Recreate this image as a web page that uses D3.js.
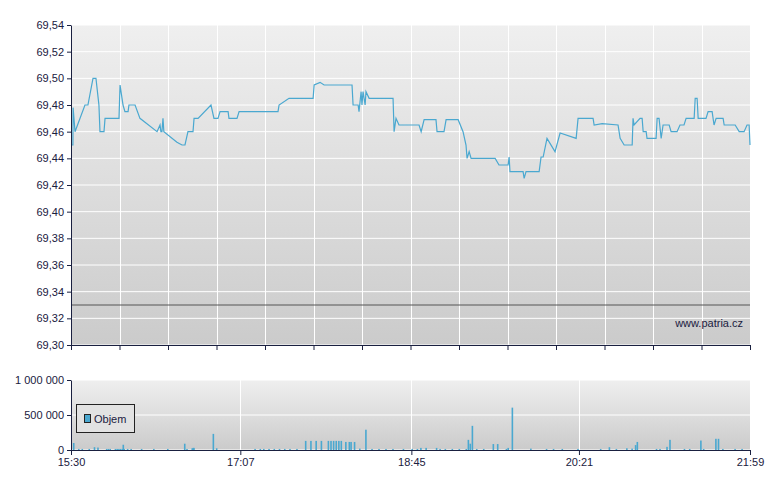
<!DOCTYPE html>
<html><head><meta charset="utf-8">
<script src="https://cdn.jsdelivr.net/npm/d3@7"></script>
<style>body{margin:0;background:#fff}text{font-family:"Liberation Sans",Arial,sans-serif;font-size:11px;fill:#1a2040}</style>
</head><body>
<svg id="chart" width="780" height="490"></svg>
<script>
// price: minutes after 15:30, value
var priceMin = [0,1.1,1.2,2.3,8.0,9.7,12.6,14.3,16.0,16.6,18.9,19.5,27.5,28.1,29.8,30.9,32.7,33.2,36.7,39.5,49.3,51.0,51.5,52.1,52.7,53.2,60.7,63.6,65.3,67.0,69.9,70.5,72.8,80.2,81.9,84.2,85.4,90.0,90.5,95.1,96.3,118.6,119.2,124.9,138.7,139.3,142.7,145.0,161.0,161.6,164.5,165.0,166.2,166.7,167.3,168.5,169.0,170.8,172.5,184.5,185.1,186.2,187.9,199.4,200.6,202.3,209.1,209.7,213.7,214.9,221.8,224.6,226.3,226.9,228.1,229.2,243.0,245.2,250.4,251.0,251.5,259.0,259.6,260.7,268.2,269.3,270.5,272.7,277.3,280.2,289.4,290.5,299.1,299.7,304.3,313.4,314.6,316.9,321.5,322.0,322.6,326.0,327.2,327.8,329.5,330.0,335.2,335.8,336.9,338.1,339.2,342.7,343.8,347.2,348.9,351.2,352.4,357.0,357.6,358.7,359.3,363.8,365.0,367.3,368.4,369.6,373.6,374.2,380.5,382.8,385.6,387.3,388.5,389];
var priceVal = [69.45,69.45,69.478,69.46,69.48,69.48,69.50,69.50,69.48,69.46,69.46,69.47,69.47,69.495,69.48,69.475,69.475,69.48,69.48,69.47,69.46,69.465,69.46,69.46,69.47,69.46,69.452,69.45,69.45,69.46,69.46,69.47,69.47,69.48,69.47,69.47,69.475,69.475,69.47,69.47,69.475,69.475,69.48,69.485,69.485,69.495,69.497,69.495,69.495,69.48,69.48,69.475,69.49,69.48,69.49,69.48,69.49,69.485,69.485,69.485,69.46,69.47,69.465,69.465,69.46,69.469,69.469,69.46,69.46,69.469,69.469,69.46,69.45,69.44,69.445,69.44,69.44,69.435,69.435,69.441,69.43,69.43,69.425,69.43,69.43,69.441,69.441,69.455,69.445,69.459,69.455,69.47,69.47,69.465,69.466,69.465,69.455,69.45,69.45,69.47,69.465,69.47,69.47,69.46,69.46,69.455,69.455,69.47,69.47,69.455,69.465,69.465,69.46,69.46,69.465,69.465,69.47,69.47,69.485,69.485,69.47,69.47,69.475,69.475,69.465,69.47,69.47,69.465,69.465,69.46,69.46,69.465,69.465,69.45];
// volume: minutes after 15:30, shares
var volMin = [1.1,4,6,10,13,15,20,21,22,25,26,27,28,29,29.5,30,32,34,40,47,55,64.7,66,69,69.6,70,81.1,83,105,108,110,113,116,119,122,125,129,134,137,140,143,147,148.5,150,151.5,153,154.4,157,159,160,162,165,168.5,172,176,180,184,190,195,198,200,203,209,211,214,218,222,226,227.2,228.3,229.5,232,236,241.5,244,249,250,252.4,263,272,276,281,290,303,308,312,318,321,323,324,335,337,341,342.7,351,354,360.4,362,369,370.5,373,380,384];
var volVal = [100000,15000,15000,15000,40000,35000,15000,15000,15000,15000,15000,15000,15000,15000,75000,15000,15000,15000,15000,15000,15000,90000,15000,25000,30000,30000,230000,25000,15000,15000,15000,15000,15000,15000,15000,15000,15000,130000,130000,130000,130000,130000,130000,130000,130000,130000,130000,115000,115000,115000,115000,20000,290000,15000,15000,15000,15000,15000,15000,15000,30000,30000,30000,15000,15000,15000,15000,15000,145000,90000,345000,15000,15000,85000,85000,15000,30000,605000,20000,15000,15000,15000,15000,15000,40000,15000,25000,20000,70000,115000,15000,15000,45000,145000,15000,15000,135000,15000,160000,160000,15000,15000,15000];
var priceTicks = [69.30,69.32,69.34,69.36,69.38,69.40,69.42,69.44,69.46,69.48,69.50,69.52,69.54];
var volTicks = [0,500000,1000000];
var timeTicks = [0,97,195,291,389];
var timeLabels = ["15:30","17:07","18:45","20:21","21:59"];

var svg = d3.select("#chart");
var L = 71, R = 750;
var x = d3.scaleLinear().domain([0,389]).range([L,R]);
var y = d3.scaleLinear().domain([69.30,69.54]).range([345,25]);
var yv = d3.scaleLinear().domain([0,1000000]).range([450,380]);
var fmt = function(d){ return d3.format(".2f")(d).replace(".", ","); };
var fmtV = function(d){ return d3.format(",")(d).replace(/,/g, " "); };

var defs = svg.append("defs");
var g1 = defs.append("linearGradient").attr("id","bg").attr("x1",0).attr("x2",0).attr("y1",0).attr("y2",1);
g1.append("stop").attr("offset","0%").attr("stop-color","#efefef");
g1.append("stop").attr("offset","100%").attr("stop-color","#cbcbcb");

// main panel
svg.append("rect").attr("x",L).attr("y",25).attr("width",R-L).attr("height",320).attr("fill","url(#bg)");
svg.append("g").selectAll("line").data(priceTicks).join("line")
    .attr("x1",L).attr("x2",R).attr("y1",y).attr("y2",y)
    .attr("stroke","#fff").attr("stroke-width",1);
var vgrid = d3.range(0,15).map(function(i){ return i*389/14; });
svg.append("g").selectAll("line").data(vgrid).join("line")
    .attr("x1",function(d){ return Math.round(x(d))+0.5; }).attr("x2",function(d){ return Math.round(x(d))+0.5; })
    .attr("y1",25).attr("y2",345).attr("stroke","#fff");
svg.append("line").attr("x1",L).attr("x2",R).attr("y1",y(69.33)).attr("y2",y(69.33)).attr("stroke","#555");

svg.append("path").datum(priceMin)
    .attr("fill","none").attr("stroke","#4aa8d0").attr("stroke-width",1.2)
    .attr("d", d3.line().x(function(d){ return x(d); }).y(function(d,i){ return y(priceVal[i]); }));

svg.append("g").attr("transform","translate("+L+",0)")
    .call(d3.axisLeft(y).tickValues(priceTicks).tickFormat(fmt).tickSize(4).tickSizeOuter(0))
    .call(function(g){ g.selectAll("path,line").attr("stroke","#1a2040"); g.selectAll("text").attr("fill","#1a2040").style("font-family","Liberation Sans").style("font-size","11px"); });
svg.append("g").attr("transform","translate(0,345)")
    .call(d3.axisBottom(x).tickValues(vgrid).tickFormat("").tickSize(5).tickSizeOuter(0))
    .call(function(g){ g.selectAll("path,line").attr("stroke","#1a2040"); });
svg.append("text").attr("x",743).attr("y",327).attr("text-anchor","end").text("www.patria.cz");

// volume panel
svg.append("rect").attr("x",L).attr("y",380).attr("width",R-L).attr("height",70).attr("fill","url(#bg)");
svg.append("g").selectAll("line").data(volTicks).join("line")
    .attr("x1",L).attr("x2",R).attr("y1",yv).attr("y2",yv).attr("stroke","#fff");
svg.append("g").selectAll("line").data(timeTicks).join("line")
    .attr("x1",function(d){ return Math.round(x(d))+0.5; }).attr("x2",function(d){ return Math.round(x(d))+0.5; })
    .attr("y1",380).attr("y2",450).attr("stroke","#fff");
svg.append("g").selectAll("rect").data(volMin).join("rect")
    .attr("x",function(d){ return x(d); }).attr("width",1.6)
    .attr("y",function(d,i){ return yv(volVal[i]); })
    .attr("height",function(d,i){ return 450-yv(volVal[i]); })
    .attr("fill","#4aa8d0");
svg.append("g").attr("transform","translate("+L+",0)")
    .call(d3.axisLeft(yv).tickValues(volTicks).tickFormat(fmtV).tickSize(4).tickSizeOuter(0))
    .call(function(g){ g.selectAll("path,line").attr("stroke","#1a2040"); g.selectAll("text").attr("fill","#1a2040").style("font-family","Liberation Sans").style("font-size","11px"); });
svg.append("g").attr("transform","translate(0,450)")
    .call(d3.axisBottom(x).tickValues(timeTicks).tickFormat(function(d,i){ return timeLabels[i]; }).tickSize(5).tickSizeOuter(0))
    .call(function(g){ g.selectAll("path,line").attr("stroke","#1a2040"); g.selectAll("text").attr("fill","#1a2040").style("font-family","Liberation Sans").style("font-size","11px"); });

// legend
svg.append("rect").attr("x",76.5).attr("y",404.5).attr("width",58).attr("height",28).attr("fill","#e2e2e2").attr("stroke","#222");
svg.append("rect").attr("x",84.5).attr("y",414.5).attr("width",6).attr("height",8).attr("fill","#4aa8d0").attr("stroke","#222");
svg.append("text").attr("x",94).attr("y",423).text("Objem");
</script>
</body></html>
